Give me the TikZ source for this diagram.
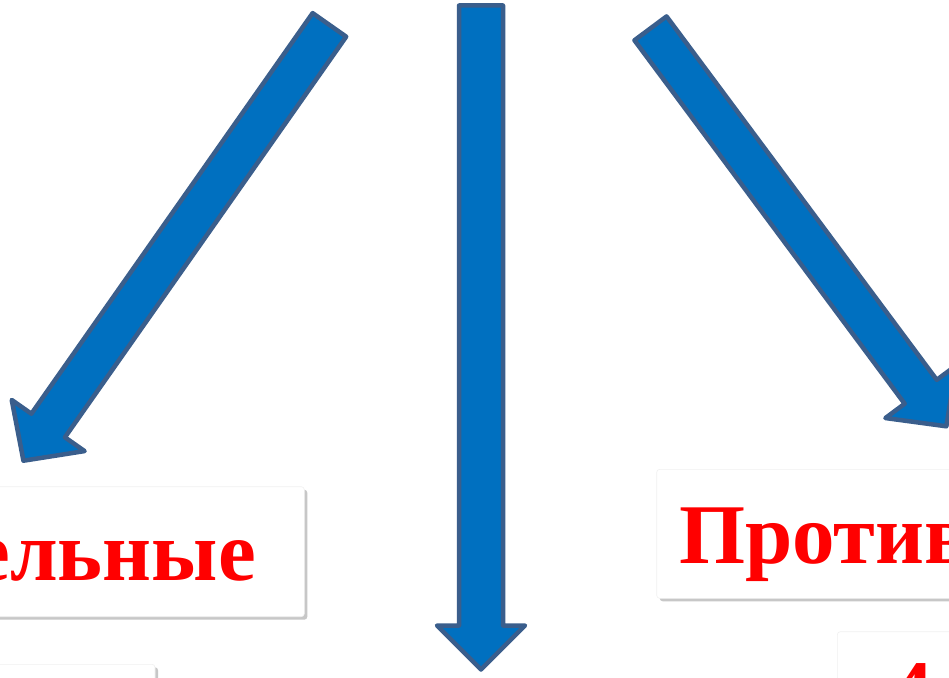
\documentclass[tikz,border=0pt]{standalone}
\usepackage{fontspec}
\setmainfont{Liberation Serif}
\definecolor{arrowfill}{HTML}{0070C0}
\definecolor{arrowline}{HTML}{3A5E8C}
\definecolor{txtred}{HTML}{FF0000}
\tikzset{
  fatarrow/.style={fill=arrowfill, draw=arrowline, line width=4.5pt, line join=round},
  cardshadow/.style={fill=black!22, draw=none},
  card/.style={fill=white, draw=black!6, line width=0.6pt, rounded corners=3pt},
  bigtext/.style={text=txtred, inner sep=0pt, font=\fontsize{85}{100}\selectfont\bfseries}
}
\begin{document}
\begin{tikzpicture}[x=1pt,y=-1pt]
\useasboundingbox (0,0) rectangle (949,677);
\clip (0,0) rectangle (949,677);
\fill[white] (0,0) rectangle (949,677);
% left arrow
\begin{scope}[shift={(329.4,24.9)}, rotate=234.93]
  \draw[fatarrow] (0,20.5) -- (489.5,20.5) -- (489.5,44.5) -- (532.5,0) -- (489.5,-44.5) -- (489.5,-20.5) -- (0,-20.5) -- cycle;
\end{scope}
% middle arrow
\begin{scope}[shift={(481,5.5)}, rotate=-90]
  \draw[fatarrow] (0,22) -- (620,22) -- (620,44) -- (664,0) -- (620,-44) -- (620,-22) -- (0,-22) -- cycle;
\end{scope}
% right arrow
\begin{scope}[shift={(650.5,28.35)}, rotate=-53.37]
  \draw[fatarrow] (0,20) -- (452.9,20) -- (452.9,44) -- (495.9,0) -- (452.9,-44) -- (452.9,-20) -- (0,-20) -- cycle;
\end{scope}
% cards with shadows
\fill[cardshadow, rounded corners=3pt] (-10,489.7) rectangle (307.3,619.7);
\draw[card] (-10,486.7) rectangle (304.3,616.7);
\fill[cardshadow, rounded corners=3pt] (-10,667.3) rectangle (158,690);
\draw[card] (-10,664.3) rectangle (155,690);
\fill[cardshadow, rounded corners=3pt] (659.7,472.3) rectangle (965,601.3);
\draw[card] (656.7,469.3) rectangle (965,598.3);
\fill[cardshadow, rounded corners=3pt] (840.3,634.7) rectangle (965,700);
\draw[card] (837.3,631.7) rectangle (965,700);
% texts
\node[bigtext, anchor=base east] (lefttext) at (256,580) {ельные};
\node[bigtext, anchor=base west] (righttext) at (679,563) {Против};
\node[bigtext, anchor=base west] (numtext) at (890,719.5) {4};
\end{tikzpicture}
\end{document}
